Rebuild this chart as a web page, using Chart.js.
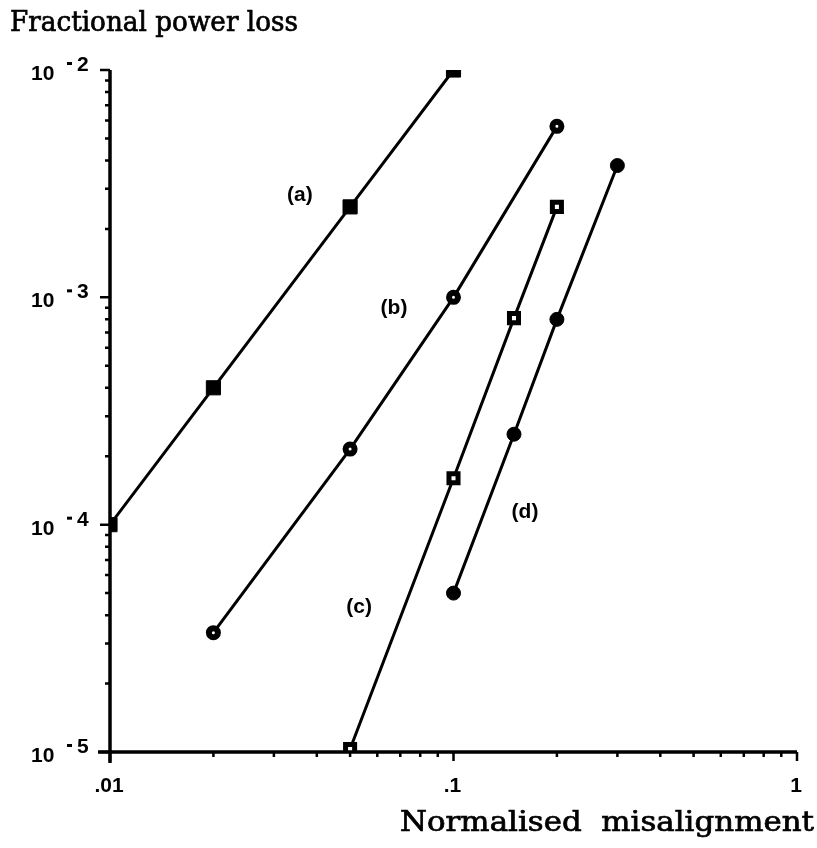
<!DOCTYPE html>
<html>
<head>
<meta charset="utf-8">
<script src="https://cdn.jsdelivr.net/npm/chart.js@4.4.1/dist/chart.umd.min.js"></script>
<style>
  html, body { margin:0; padding:0; background:#fff; }
  #wrap { width:817px; height:848px; position:relative; }
</style>
</head>
<body>
<div id="wrap"><canvas id="lossChart" width="817" height="848"></canvas></div>
<script>
// misalignment values per curve
const xA = [0.01, 0.02, 0.05, 0.1];
const yA = [1e-4, 4e-4, 2.5e-3, 1e-2];
const xB = [0.02, 0.05, 0.1, 0.2];
const yB = [3.35e-5, 2.15e-4, 1e-3, 5.65e-3];
const xC = [0.05, 0.1, 0.15, 0.2];
const yC = [1.03e-5, 1.6e-4, 8.1e-4, 2.5e-3];
const xD = [0.1, 0.15, 0.2, 0.3];
const yD = [5e-5, 2.5e-4, 8e-4, 3.8e-3];

const curveNames = ['(a)', '(b)', '(c)', '(d)'];
const xTickLabels = ['.01', '.1', '1'];
const xTickValues = [0.01, 0.1, 1];
const yTickExps = [-2, -3, -4, -5];

function pts(xs, ys){ return xs.map((x,i)=>({x:x, y:ys[i]})); }

const serif = '"DejaVu Serif", "Liberation Serif", serif';
const sans = '"Liberation Sans", Arial, sans-serif';

// draw text squeezed/stretched to a given width
function fitText(ctx, txt, x, y, w, align){
  const m = ctx.measureText(txt).width;
  ctx.save();
  ctx.translate(align === 'right' ? x - w : x, y);
  ctx.scale(w / m, 1);
  ctx.textAlign = 'left';
  ctx.lineWidth = 0.7;
  ctx.fillText(txt, 0, 0);
  ctx.strokeText(txt, 0, 0);
  ctx.restore();
}

const decorPlugin = {
  id:'decor',
  afterDraw(chart){
    const ctx = chart.ctx;
    const xs = chart.scales.x, ys = chart.scales.y;
    const left = xs.left, bottom = ys.bottom;
    ctx.save();
    ctx.strokeStyle = '#000';
    ctx.fillStyle = '#000';
    // axes
    ctx.lineWidth = 3.5;
    ctx.beginPath();
    ctx.moveTo(left, ys.top); ctx.lineTo(left, bottom + 11);
    ctx.moveTo(left - 12, bottom); ctx.lineTo(xs.right, bottom);
    ctx.stroke();
    // ticks (major + minor) on both log axes
    ctx.lineWidth = 2.5;
    ctx.beginPath();
    for (let e = -2; e <= -1; e++) {
      for (let m = 1; m <= 10; m++) {
        const v = m * Math.pow(10, e);
        const px = xs.getPixelForValue(v);
        const len = (m === 1 || m === 10) ? 9 : 5;
        ctx.moveTo(px, bottom); ctx.lineTo(px, bottom + len);
      }
    }
    for (let e = -5; e <= -3; e++) {
      for (let m = 1; m <= 10; m++) {
        const v = m * Math.pow(10, e);
        const py = ys.getPixelForValue(v);
        const len = (m === 1 || m === 10) ? 10 : 5;
        ctx.moveTo(left, py); ctx.lineTo(left - len, py);
      }
    }
    ctx.stroke();

    // y tick labels 10^-n
    ctx.textBaseline = 'alphabetic';
    yTickExps.forEach(e => {
      const py = ys.getPixelForValue(Math.pow(10, e));
      ctx.textAlign = 'left';
      ctx.font = 'bold 21px ' + sans;
      ctx.fillText('10', 31, py + 10);
      ctx.fillText(String(-e), 77, py + 1);
      ctx.fillRect(67, py - 8, 5, 3);
    });
    // x tick labels
    ctx.font = 'bold 21px ' + sans;
    ctx.textAlign = 'center';
    xTickValues.forEach((v, i) => {
      const px = xs.getPixelForValue(v);
      ctx.fillText(xTickLabels[i], px - 1, bottom + 40);
    });

    // curve labels
    ctx.font = 'bold 21px ' + sans;
    const labelAt = [[0.0357, 2.65e-3], [0.0671, 8.45e-4], [0.0531, 4.1e-5], [0.1615, 1.07e-4]];
    labelAt.forEach((p, i) => {
      ctx.fillText(curveNames[i], xs.getPixelForValue(p[0]), ys.getPixelForValue(p[1]));
    });

    // axis titles
    ctx.font = '27px ' + serif;
    fitText(ctx, 'Fractional power loss', 10, 31, 288, 'left');
    fitText(ctx, 'Normalised  misalignment', 814, 831, 414, 'right');
    ctx.restore();
  }
};

const lineStyle = { borderColor:'#000', borderWidth:3, tension:0, showLine:true };

new Chart(document.getElementById('lossChart'), {
  type:'scatter',
  data:{
    datasets:[
      Object.assign({label:'a', data:pts(xA,yA), pointStyle:'rect', pointRadius:10, pointBackgroundColor:'#000', pointBorderColor:'#000', pointBorderWidth:1}, lineStyle),
      Object.assign({label:'b', data:pts(xB,yB), pointStyle:'circle', pointRadius:4.5, pointBackgroundColor:'#fff', pointBorderColor:'#000', pointBorderWidth:6}, lineStyle),
      Object.assign({label:'c', data:pts(xC,yC), pointStyle:'rect', pointRadius:6.4, pointBackgroundColor:'#fff', pointBorderColor:'#000', pointBorderWidth:5}, lineStyle),
      Object.assign({label:'d', data:pts(xD,yD), pointStyle:'circle', pointRadius:7, pointBackgroundColor:'#000', pointBorderColor:'#000', pointBorderWidth:1}, lineStyle)
    ]
  },
  options:{
    responsive:false,
    animation:false,
    layout:{padding:{left:110, right:20, top:70, bottom:96}},
    plugins:{legend:{display:false}, tooltip:{enabled:false}},
    scales:{
      x:{type:'logarithmic', min:0.01, max:1,
         ticks:{display:false}, grid:{display:false}, border:{display:false},
         afterFit(s){ s.height = 0; }},
      y:{type:'logarithmic', min:1e-5, max:1e-2,
         ticks:{display:false}, grid:{display:false}, border:{display:false},
         afterFit(s){ s.width = 0; }}
    }
  },
  plugins:[decorPlugin]
});
</script>
</body>
</html>
